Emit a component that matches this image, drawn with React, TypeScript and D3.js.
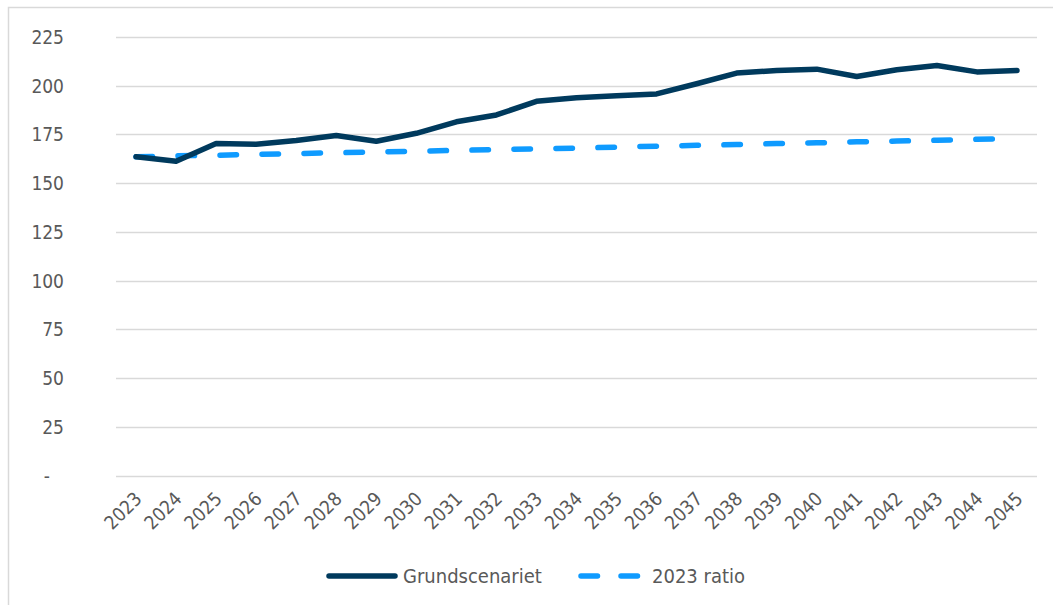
import { useEffect, useRef } from 'react';
import * as d3 from 'd3';

const years = ['2023', '2024', '2025', '2026', '2027', '2028', '2029', '2030', '2031', '2032', '2033', '2034',
  '2035', '2036', '2037', '2038', '2039', '2040', '2041', '2042', '2043', '2044', '2045'];
const grundscenariet = [163.5, 161.2, 170.3, 170, 171.9, 174.5, 171.5, 175.6, 181.5, 185, 192, 193.8,
  194.8, 195.8, 201, 206.5, 207.8, 208.5, 204.7, 208.2, 210.4, 207.1, 207.8];
const ratio2023 = [163.5, 164, 164.3, 164.8, 165.2, 165.6, 166, 166.4, 166.8, 167.2, 167.6, 168,
  168.5, 169, 169.4, 169.8, 170.3, 170.7, 171.2, 171.6, 172, 172.5, 173];
const yTicks = [0, 25, 50, 75, 100, 125, 150, 175, 200, 225];
const seriesNames = ['Grundscenariet', '2023 ratio'];

const W = 1053;
const H = 605;
const FONT = "'DejaVu Sans Condensed', 'DejaVu Sans', sans-serif";
const TEXT = '#595959';
const DARK = '#003a5d';
const BLUE = '#0f9bff';

export default function App() {
  const svgRef = useRef<SVGSVGElement>(null);

  useEffect(() => {
    if (!svgRef.current) return;
    const svg = d3.select(svgRef.current);
    svg.selectAll('*').remove();

    const left = 116, right = 1037, top = 37, bottom = 475.5;

    const x = d3.scaleBand().domain(years).range([left, right]);
    const y = d3.scaleLinear().domain([0, 225]).range([bottom, top]);
    const cx = (d: string) => (x(d) || 0) + x.bandwidth() / 2;

    // outer border
    svg.append('path')
      .attr('d', `M8.5,${H} L8.5,7.5 L${W},7.5`)
      .attr('fill', 'none')
      .attr('stroke', '#d9d9d9')
      .attr('stroke-width', 1.5);

    // gridlines
    svg.append('g')
      .selectAll('line')
      .data(yTicks)
      .enter()
      .append('line')
      .attr('x1', left)
      .attr('x2', right)
      .attr('y1', d => Math.round(y(d)) + 0.5)
      .attr('y2', d => Math.round(y(d)) + 0.5)
      .attr('stroke', '#d9d9d9')
      .attr('stroke-width', 1.5);

    // y labels
    svg.append('g')
      .selectAll('text')
      .data(yTicks)
      .enter()
      .append('text')
      .attr('x', d => (d === 0 ? 50 : 64))
      .attr('y', d => y(d) + 7)
      .attr('text-anchor', 'end')
      .attr('fill', TEXT)
      .style('font-family', FONT)
      .style('font-size', '19px')
      .text(d => (d === 0 ? '-' : String(d)));

    // x labels
    svg.append('g')
      .selectAll('text')
      .data(years)
      .enter()
      .append('text')
      .attr('transform', d => `translate(${cx(d) + 7},${500}) rotate(-45)`)
      .attr('text-anchor', 'end')
      .attr('fill', TEXT)
      .style('font-family', FONT)
      .style('font-size', '19px')
      .text(d => d);

    const line = d3.line<number>()
      .x((_, i) => cx(years[i]))
      .y(d => y(d));

    svg.append('path')
      .datum(ratio2023)
      .attr('d', line)
      .attr('fill', 'none')
      .attr('stroke', BLUE)
      .attr('stroke-width', 5.5)
      .attr('stroke-linecap', 'round')
      .attr('stroke-dasharray', '16.5,25.5');

    svg.append('path')
      .datum(grundscenariet)
      .attr('d', line)
      .attr('fill', 'none')
      .attr('stroke', DARK)
      .attr('stroke-width', 5.5)
      .attr('stroke-linejoin', 'round')
      .attr('stroke-linecap', 'round');

    // legend
    const lg = svg.append('g');
    lg.append('line')
      .attr('x1', 329).attr('x2', 395)
      .attr('y1', 576).attr('y2', 576)
      .attr('stroke', DARK).attr('stroke-width', 5.5).attr('stroke-linecap', 'round');
    lg.append('text')
      .attr('x', 403).attr('y', 583)
      .attr('fill', TEXT)
      .style('font-family', FONT).style('font-size', '20px')
      .text(seriesNames[0]);
    lg.append('line')
      .attr('x1', 581).attr('x2', 640)
      .attr('y1', 576).attr('y2', 576)
      .attr('stroke', BLUE).attr('stroke-width', 5.5).attr('stroke-linecap', 'round')
      .attr('stroke-dasharray', '16.5,23.5');
    lg.append('text')
      .attr('x', 652).attr('y', 583)
      .attr('fill', TEXT)
      .style('font-family', FONT).style('font-size', '20px')
      .text(seriesNames[1]);
  }, []);

  return (
    <svg
      ref={svgRef}
      width={W}
      height={H}
      style={{ position: 'absolute', left: 0, top: 0, background: '#fff' }}
    />
  );
}
